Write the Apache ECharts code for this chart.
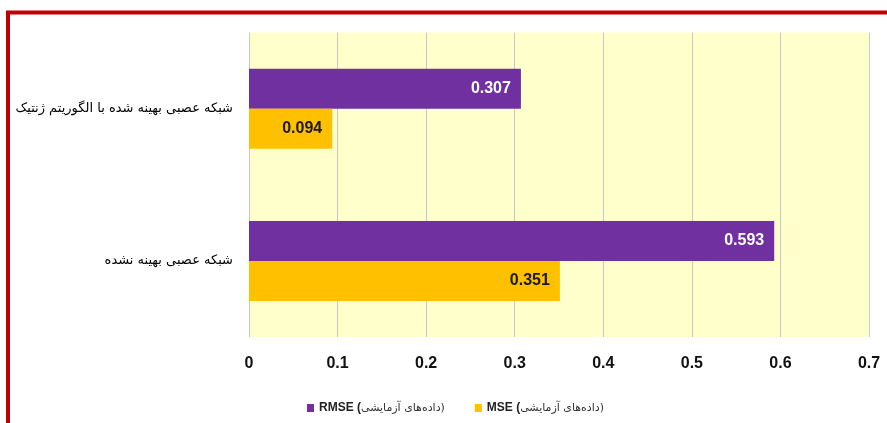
<!DOCTYPE html>
<html>
<head>
<meta charset="utf-8">
<script src="https://cdn.jsdelivr.net/npm/echarts@6/dist/echarts.min.js"></script>
<style>
html,body{margin:0;padding:0;background:#fff;}
#c{width:887px;height:423px;}
</style>
</head>
<body>
<div id="c"></div>
<script>
const categories = ['شبکه عصبی بهینه شده با الگوریتم ژنتیک', 'شبکه عصبی بهینه نشده'];
const rmseValues = [0.307, 0.593];
const mseValues = [0.094, 0.351];
const seriesNames = ['RMSE (داده‌های آزمایشی)', 'MSE (داده‌های آزمایشی)'];
const xTicks = [0, 0.1, 0.2, 0.3, 0.4, 0.5, 0.6, 0.7];

const chart = echarts.init(document.getElementById('c'), null, {renderer: 'canvas'});
const option = {
  backgroundColor: '#ffffff',
  animation: false,
  graphic: [{
    type: 'rect',
    shape: {x: 8, y: 12.5, width: 1000, height: 1000},
    style: {fill: 'none', stroke: '#C00000', lineWidth: 4},
    silent: true, z: 100
  }],
  grid: {
    left: 249, right: 18, top: 32.5, bottom: 86,
    show: true, backgroundColor: '#FFFFCC', borderWidth: 0,
    containLabel: false,
    outerBoundsMode: 'none'
  },
  legend: {
    left: 302, top: 397,
    itemWidth: 7, itemHeight: 8, itemGap: 30,
    icon: 'rect',
    data: seriesNames,
    formatter: function (name) {
      const i = name.indexOf(' ');
      return '{b|' + name.slice(0, i) + ' (}{n|' + name.slice(i + 2, name.length - 1) + '}{n|)}';
    },
    textStyle: {
      rich: {
        b: {fontFamily: 'Liberation Sans, Arial, sans-serif', fontWeight: 'bold', fontSize: 12, color: '#222'},
        n: {fontFamily: 'DejaVu Sans, sans-serif', fontSize: 11, color: '#333'}
      }
    }
  },
  xAxis: {
    type: 'value', min: 0, max: 0.7, interval: 0.1,
    axisLine: {show: false},
    axisTick: {show: false},
    axisLabel: {
      margin: 19, fontSize: 16, fontWeight: 'bold', color: '#111',
      fontFamily: 'Liberation Sans, Arial, sans-serif',
      formatter: function (v) {
        const t = xTicks.find(x => Math.abs(x - v) < 1e-9);
        return t === undefined ? '' : String(t);
      }
    },
    splitLine: {show: true, lineStyle: {color: '#C8C8C4', width: 1}}
  },
  yAxis: {
    type: 'category', data: categories, inverse: true,
    axisLine: {show: false},
    axisTick: {show: false},
    axisLabel: {
      margin: 16, fontSize: 13, color: '#000',
      fontFamily: 'DejaVu Sans, sans-serif'
    }
  },
  series: [
    {
      name: seriesNames[0], type: 'bar', data: rmseValues,
      barWidth: 40, barGap: '0%',
      itemStyle: {color: '#7030A0'},
      label: {
        show: true, position: 'insideRight', distance: 10,
        color: '#ffffff', fontSize: 16, fontWeight: 'bold',
        fontFamily: 'Liberation Sans, Arial, sans-serif',
        formatter: p => p.value.toFixed(3)
      }
    },
    {
      name: seriesNames[1], type: 'bar', data: mseValues,
      barWidth: 40, barGap: '0%',
      itemStyle: {color: '#FFC000'},
      label: {
        show: true, position: 'insideRight', distance: 10,
        color: '#1a1a1a', fontSize: 16, fontWeight: 'bold',
        fontFamily: 'Liberation Sans, Arial, sans-serif',
        formatter: p => p.value.toFixed(3)
      }
    }
  ]
};
chart.setOption(option);
</script>
</body>
</html>
